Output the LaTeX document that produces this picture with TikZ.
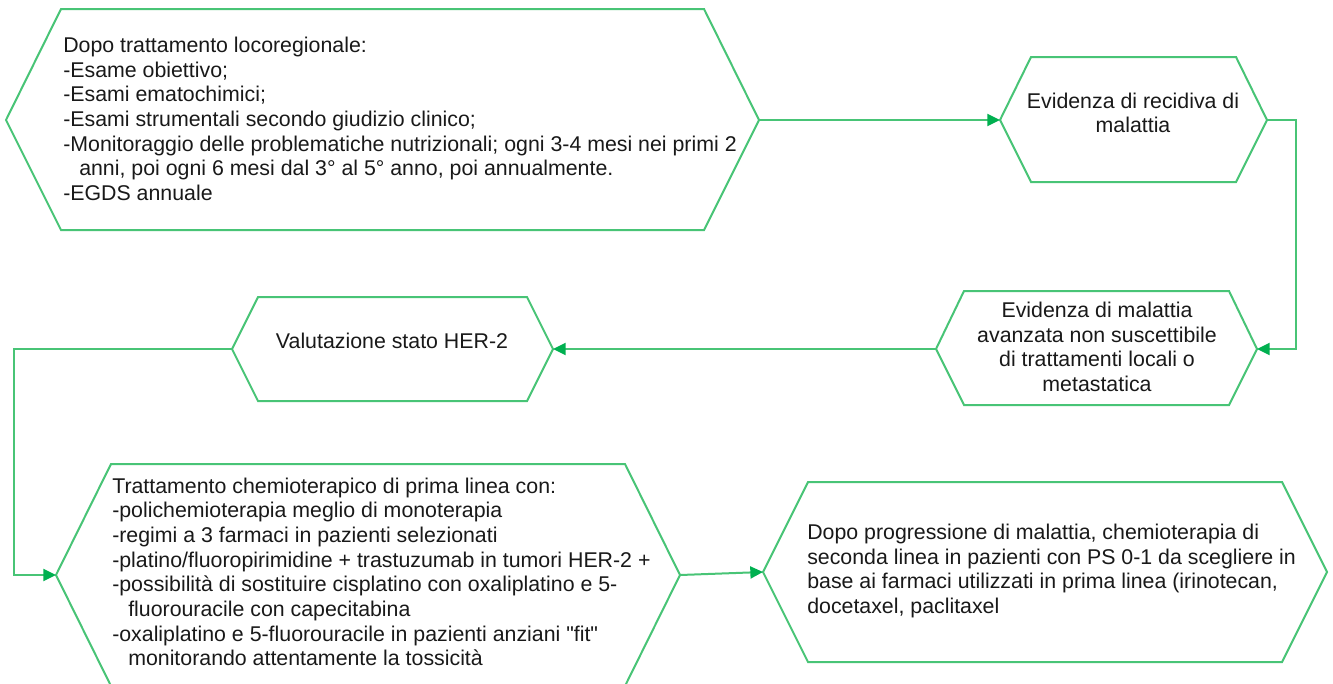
\documentclass[tikz,border=0pt]{standalone}
\usepackage{fontspec}
\setmainfont[Ligatures=TeXOff]{Liberation Sans}
\usetikzlibrary{arrows.meta}
\definecolor{hexgreen}{RGB}{72,196,118}
\definecolor{tipgreen}{RGB}{0,176,80}
\tikzset{
  hex/.style={draw=hexgreen, line width=1.5pt, line join=miter},
  conn/.style={draw=hexgreen, line width=1.5pt, line join=miter,
    -{Triangle[length=9.5pt,width=9pt,color=tipgreen]}},
  txt/.style={inner sep=0pt, text=black!90,
    font=\fontsize{16pt}{18.5pt}\selectfont},
  ltxt/.style={txt, align=left, anchor=west},
  ctxt/.style={txt, align=center}
}
\begin{document}
\begin{tikzpicture}[x=0.75pt,y=-0.75pt]
\useasboundingbox (0,0) rectangle (1333,683);
\clip (0,0) rectangle (1333,683);
\fill[white] (0,0) rectangle (1333,683);

% hexagon 1
\draw[hex] (6,120) coordinate (h1w) -- (61,9) -- (704,9) -- (759,120) coordinate (h1e)
  -- (704,230) -- (61,230) -- cycle;
\node[ltxt] (t1) at (63,119) {Dopo trattamento locoregionale:\\
-Esame obiettivo;\\
-Esami ematochimici;\\
-Esami strumentali secondo giudizio clinico;\\
-Monitoraggio delle problematiche nutrizionali; ogni 3-4 mesi nei primi 2\\
\hspace*{0.75em}anni, poi ogni 6 mesi dal 3° al 5° anno, poi annualmente.\\
-EGDS annuale};

% hexagon 2
\draw[hex] (1000,120) coordinate (h2w) -- (1031,57) -- (1236,57) -- (1267,120) coordinate (h2e)
  -- (1236,182) -- (1031,182) -- cycle;
\node[ctxt] (t2) at (1133,113) {Evidenza di recidiva di\\malattia};

% hexagon 3
\draw[hex] (936,349) coordinate (h3w) -- (964,291) -- (1229,291) -- (1257,349) coordinate (h3e)
  -- (1229,405) -- (964,405) -- cycle;
\node[ctxt] (t3) at (1097,347) {Evidenza di malattia\\avanzata non suscettibile\\di trattamenti locali o\\metastatica};

% hexagon 4
\draw[hex] (232,349) coordinate (h4w) -- (258,297) -- (527,297) -- (553,349) coordinate (h4e)
  -- (527,401) -- (258,401) -- cycle;
\node[ctxt] (t4) at (392,341) {Valutazione stato HER-2};

% hexagon 5
\draw[hex] (56,575) coordinate (h5w) -- (111,464) -- (625,464) -- (680,575) coordinate (h5e)
  -- (625,686) -- (111,686) -- cycle;
\node[ltxt] (t5) at (112,572) {Trattamento chemioterapico di prima linea con:\\
-polichemioterapia meglio di monoterapia\\
-regimi a 3 farmaci in pazienti selezionati\\
-platino/fluoropirimidine + trastuzumab in tumori HER-2 +\\
-possibilità di sostituire cisplatino con oxaliplatino e 5-\\
\hspace*{0.75em}fluorouracile con capecitabina\\
-oxaliplatino e 5-fluorouracile in pazienti anziani "fit"\\
\hspace*{0.75em}monitorando attentamente la tossicità};

% hexagon 6
\draw[hex] (763,572) coordinate (h6w) -- (808,482) -- (1282,482) -- (1327,572) coordinate (h6e)
  -- (1282,662) -- (808,662) -- cycle;
\node[ltxt] (t6) at (807,571) {Dopo progressione di malattia, chemioterapia di\\
seconda linea in pazienti con PS 0-1 da scegliere in\\
base ai farmaci utilizzati in prima linea (irinotecan,\\
docetaxel, paclitaxel};

% routing coordinates
\coordinate (k1) at (1296,0);
\coordinate (k2) at (14,0);

% connectors
\draw[conn] (h1e) -- (h2w);
\draw[conn] (h2e) -- (h2e -| k1) -- (h3e -| k1) -- (h3e);
\draw[conn] (h3w) -- (h4e);
\draw[conn] (h4w) -- (h4w -| k2) -- (h5w -| k2) -- (h5w);
\draw[conn] (h5e) -- (h6w);
\end{tikzpicture}
\end{document}
